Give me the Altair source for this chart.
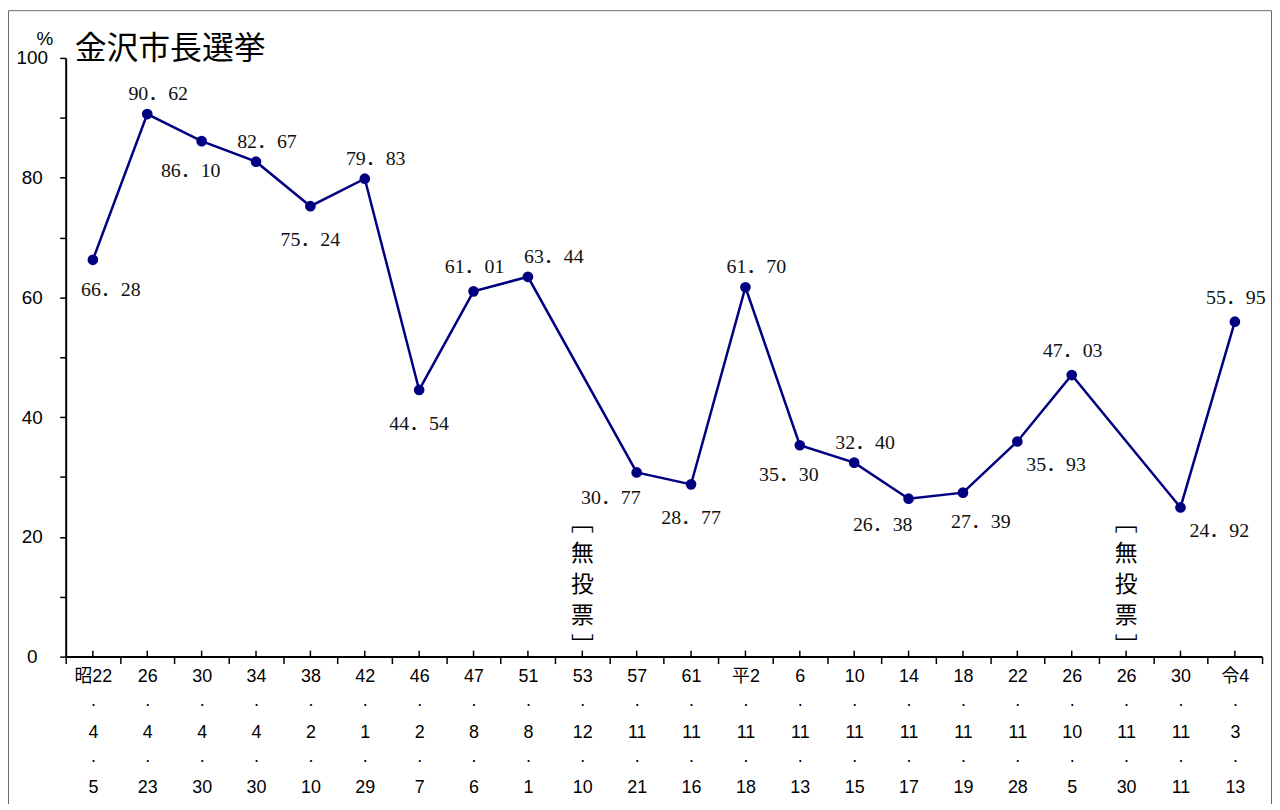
import altair as alt
import pandas as pd

# ---- data ----
categories = ["昭22.4.5", "26.4.23", "30.4.30", "34.4.30", "38.2.10", "42.1.29",
              "46.2.7", "47.8.6", "51.8.1", "53.12.10", "57.11.21", "61.11.16",
              "平2.11.18", "6.11.13", "10.11.15", "14.11.17", "18.11.19", "22.11.28",
              "26.10.5", "26.11.30", "30.11.11", "令4.3.13"]
turnout = [66.28, 90.62, 86.10, 82.67, 75.24, 79.83, 44.54, 61.01, 63.44, None,
           30.77, 28.77, 61.70, 35.30, 32.40, 26.38, 27.39, 35.93, 47.03, None,
           24.92, 55.95]
label_side = ["below_right", "above", "below_left", "above", "below", "above",
              "below", "top", "above_right", None, "far_left", "below",
              "above", "below_left", "above", "far_left", "below_right", "right",
              "top", None, "right", "top"]
title_text = "金沢市長選挙"
unit_text = "%"
novote_text = ["﹇", "無", "投", "票", "﹈"]

df = pd.DataFrame({"cat": categories, "v": turnout, "side": label_side})
valid = df[df["v"].notna()].copy()
novote = df[df["v"].isna()].copy()
cats_df = pd.DataFrame({"cat": categories})

W, H = 1203, 602
NAVY = "#000080"

x_enc = alt.X("cat:N", sort=categories,
              scale=alt.Scale(domain=categories, paddingInner=0, paddingOuter=0),
              axis=alt.Axis(
                  title=None, labelAngle=0, labelAlign="center",
                  tickBand="extent", grid=False,
                  labelExpr="isValid(datum.value) ? [split(datum.value, '.')[0], '·', split(datum.value, '.')[1], '·', split(datum.value, '.')[2]] : ''",
                  labelLineHeight=28, labelBaseline="top", labelPadding=4,
                  labelFont="Liberation Sans, Noto Sans CJK JP", labelFontSize=18,
                  labelColor="black", labelOverlap=False, labelFlush=False,
                  domainColor="black", domainWidth=2, tickColor="black",
                  tickWidth=1.5, tickSize=7))
y_enc = alt.Y("v:Q", scale=alt.Scale(domain=[0, 100], nice=False),
              axis=alt.Axis(
                  title=None, values=list(range(0, 101, 10)), grid=False,
                  labelExpr="datum.value % 20 === 0 ? datum.label : ''",
                  labelFont="Liberation Sans", labelFontSize=19, labelColor="black",
                  labelAlign="center", labelPadding=28,
                  tickSize=6, tickWidth=1.5, tickColor="black",
                  domainColor="black", domainWidth=2))

base = alt.Chart(valid)

line = base.mark_line(color=NAVY, strokeWidth=2.5).encode(x=x_enc, y=y_enc)
points = base.mark_circle(color=NAVY, opacity=1, size=115).encode(x="cat:N", y="v:Q")

offsets = {
    "above": (11, -20),
    "top": (1, -24),
    "above_right": (26, -20),
    "below": (0, 34),
    "below_left": (-11, 30),
    "far_left": (-26, 26),
    "below_right": (18, 30),
    "right": (39, 24),
}
label_layers = []
for side, (dx, dy) in offsets.items():
    label_layers.append(
        base.transform_filter(alt.datum.side == side)
        .transform_calculate(lbl="replace(format(datum.v, '.2f'), '.', '．')")
        .mark_text(font="Liberation Serif, Noto Sans CJK JP", fontSize=20,
                   color="#111", dx=dx, dy=dy, baseline="middle", align="center")
        .encode(x="cat:N", y="v:Q", text="lbl:N")
    )

novote_layer = alt.Chart(novote).mark_text(
    font="Noto Sans CJK JP", fontSize=23, color="black",
    baseline="middle", align="center", lineHeight=31).encode(
    x="cat:N", y=alt.value(468), text=alt.value(novote_text))

center_ticks = alt.Chart(cats_df).mark_rule(color="black", strokeWidth=1.5).encode(
    x="cat:N", y=alt.value(H), y2=alt.value(H - 6))

title_df = pd.DataFrame({"t": [title_text]})
title_layer = alt.Chart(title_df).mark_text(
    font="Noto Sans CJK JP", fontSize=32, fontWeight="normal", color="black",
    align="left", baseline="middle").encode(
    x=alt.value(9), y=alt.value(-9), text="t:N")

unit_df = pd.DataFrame({"t": [unit_text]})
unit_layer = alt.Chart(unit_df).mark_text(
    font="Liberation Sans", fontSize=19, color="black",
    align="center", baseline="middle").encode(
    x=alt.value(-21), y=alt.value(-19), text="t:N")

border_df = pd.DataFrame({"k": [0]})
border = alt.Chart(border_df).mark_rect(fillOpacity=0, stroke="#666", strokeWidth=1).encode(
    x=alt.value(-57.5), x2=alt.value(W + 9.5), y=alt.value(-47.5), y2=alt.value(H + 200))

chart = alt.layer(
    border, center_ticks, line, points, *label_layers, novote_layer, title_layer, unit_layer
).properties(
    width=W, height=H,
    background="white",
    autosize=alt.AutoSizeParams(type="none"),
    padding={"left": 58, "top": 48, "right": 10, "bottom": 146},
).configure_view(stroke=None)

chart.save("out.html", embed_options={"renderer": "svg", "actions": False})
